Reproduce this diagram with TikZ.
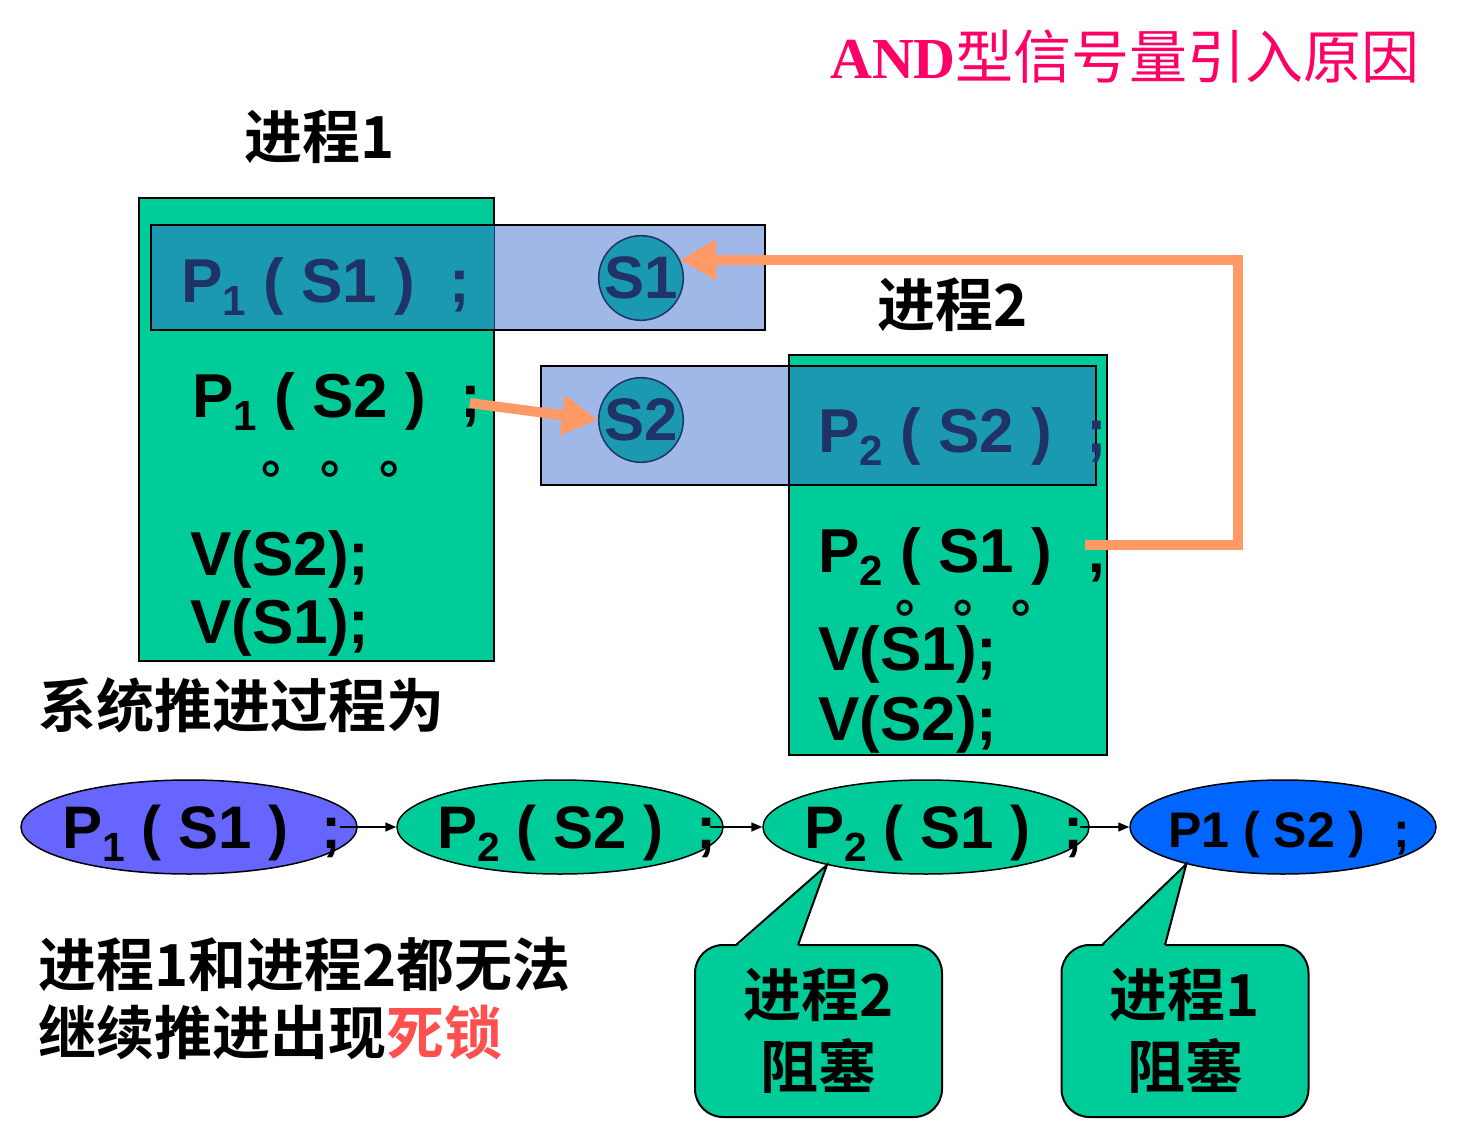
\documentclass[tikz,border=0pt]{standalone}
\usepackage{fontspec}
\usepackage{graphicx}
\setmainfont{Liberation Sans}
\newfontfamily\cjk{Noto Sans CJK SC}[BoldFont={Noto Sans CJK SC Bold}]
\newfontfamily\serifen{Liberation Serif}
\usetikzlibrary{arrows.meta,shapes.geometric}
\definecolor{pgreen}{RGB}{0,204,153}
\definecolor{lblue}{RGB}{160,184,232}
\definecolor{tealx}{RGB}{26,153,176}
\definecolor{navy}{RGB}{31,51,102}
\definecolor{orng}{RGB}{255,153,102}
\definecolor{violetb}{RGB}{102,102,255}
\definecolor{brblue}{RGB}{0,102,255}
\definecolor{titlered}{RGB}{255,0,102}
\definecolor{lockred}{RGB}{255,80,80}
\newcommand\sbs[1]{\raisebox{-0.22em}{\scalebox{0.68}{#1}}}
\tikzset{
  codetext/.style={font=\fontsize{62}{70}\selectfont\bfseries, anchor=base west, inner sep=0pt},
  ovaltext/.style={font=\fontsize{60}{70}\selectfont\bfseries, anchor=base west, inner sep=0pt},
  cjktext/.style={font=\cjk\bfseries\fontsize{58}{68}\selectfont, inner sep=0pt},
  dotstext/.style={font=\cjk\bfseries\fontsize{50}{60}\selectfont, anchor=base west, inner sep=0pt,
     text height=20pt, text depth=0pt},
  procbox/.style={draw=black, line width=2pt, fill=pgreen, rectangle, inner sep=0pt},
  sembox/.style={draw=black, line width=2pt, fill=lblue, rectangle, inner sep=0pt},
  semcircle/.style={draw=navy, line width=1.5pt, fill=tealx, circle, minimum size=84pt, inner sep=0pt,
     font=\fontsize{60}{70}\selectfont\bfseries, text=navy},
  orangearrow/.style={draw=orng, line width=10pt, -{Triangle[length=36pt,width=38pt]}},
  stepoval/.style={ellipse, draw=black, line width=1.5pt, minimum height=94pt, inner sep=0pt},
  smallarrow/.style={draw=black, line width=1.5pt, -{Triangle[length=11pt,width=9pt]}},
  calloutbox/.style={draw=black, line width=2pt, fill=pgreen, rounded corners=28pt, minimum width=247pt,
     minimum height=172pt, align=center, font=\cjk\bfseries\fontsize{58}{72}\selectfont}
}
\begin{document}
\begin{tikzpicture}[x=1pt,y=-1pt]
\useasboundingbox (0,0) rectangle (1475,1142);
\fill[white] (0,0) rectangle (1475,1142);

% title
\node[anchor=east, inner sep=0pt, text=titlered] (title) at (1420,57)
  {\fontsize{58}{66}\selectfont{\serifen\bfseries AND}{\cjk 型信号量引入原因}};

% process 1
\node[cjktext] (lab1) at (320,137) {进程1};
\node[procbox, minimum width=355pt, minimum height=463pt] (p1box) at (316.5,429.5) {};
\node[sembox, minimum width=614pt, minimum height=105pt] (s1box) at (458,277.5) {};
\fill[tealx] (151,225) rectangle (494,330);
\draw[navy, line width=1pt] (494,225) -- (494,330);
\draw[black, line width=2pt] (151,225) rectangle (765,330);
\node[semcircle] (s1c) at (641,278) {S1};
\node[codetext, text=navy] (t11) at (181,302) {P\sbs{1} ( S1 )\ \ ;};
\node[codetext] (t12) at (192,417) {P\sbs{1} ( S2 )\ \ ;};
\node[dotstext] (t13) at (261,473) {。\hspace{9pt}。\hspace{9pt}。};
\node[codetext] (t14) at (190,575) {V(S2);};
\node[codetext] (t15) at (190,643) {V(S1);};

% process 2
\node[cjktext] (lab2) at (953,305) {进程2};
\node[sembox, minimum width=555pt, minimum height=119pt] (s2box) at (818.5,425.5) {};
\node[procbox, minimum width=318pt, minimum height=400pt] (p2box) at (948,555) {};
\fill[tealx] (789,366) rectangle (1096,485);
\draw[black, line width=2pt] (541,366) rectangle (1096,485);
\draw[black, line width=2pt] (789,366) -- (789,485);
\node[semcircle] (s2c) at (641,420) {S2};
\node[codetext, text=navy] (t21) at (818,452) {P\sbs{2} ( S2 )\ \ ;};
\node[codetext] (t22) at (818,572) {P\sbs{2} ( S1 )\ \ ;};
\node[dotstext] (t23) at (895,612) {。\hspace{8pt}。\hspace{8pt}。};
\node[codetext] (t24) at (818,670) {V(S1);};
\node[codetext] (t25) at (818,740) {V(S2);};

% orange arrows
\coordinate (q1) at (470,403);
\draw[orangearrow] (q1) -- (s2c.west);
\coordinate (q2) at (1085,545);
\coordinate (k2) at (1238,545);
\draw[orangearrow] (q2) -- (k2) |- (s1c.25);

% system progress
\node[cjktext, anchor=west] (sys) at (38,705) {系统推进过程为};

\node[stepoval, fill=violetb, minimum width=336pt] (e1) at (189,827) {};
\node[stepoval, fill=pgreen, minimum width=326pt] (e2) at (560,827) {};
\node[stepoval, fill=pgreen, minimum width=326pt] (e3) at (926,827) {};
\node[stepoval, fill=brblue, minimum width=306pt] (e4) at (1283,827) {};
\node[ovaltext] (o1) at (62,848) {P\sbs{1} ( S1 )\ \ ;};
\node[ovaltext] (o2) at (437,848) {P\sbs{2} ( S2 )\ \ ;};
\node[ovaltext] (o3) at (804,848) {P\sbs{2} ( S1 )\ \ ;};
\node[ovaltext, font=\fontsize{50}{60}\selectfont\bfseries] (o4) at (1168,847) {P1 ( S2 )\ \ ;};
\coordinate (d1) at (340,827);
\coordinate (d2) at (710,827);
\coordinate (d3) at (1080,827);
\draw[smallarrow] (d1) -- (e2.west);
\draw[smallarrow] (d2) -- (e3.west);
\draw[smallarrow] (d3) -- (e4.west);

% callouts
\node[calloutbox] (c1) at (818.5,1031) {进程2\\阻塞};
\fill[pgreen] (736,947) -- (e3.201) -- (798,947) -- cycle;
\draw[black, line width=2pt, line join=miter] (736,945) -- (e3.201) -- (798,945);
\node[calloutbox] (c2) at (1185,1031) {进程1\\阻塞};
\fill[pgreen] (1102,947) -- (e4.201) -- (1165,947) -- cycle;
\draw[black, line width=2pt, line join=miter] (1102,945) -- (e4.201) -- (1165,945);

% conclusion
\node[anchor=west, align=left, inner sep=0pt, font=\cjk\bfseries\fontsize{58}{68}\selectfont] (concl) at (38,999)
  {进程1和进程2都无法\\继续推进出现{\color{lockred}死锁}};
\end{tikzpicture}
\end{document}
